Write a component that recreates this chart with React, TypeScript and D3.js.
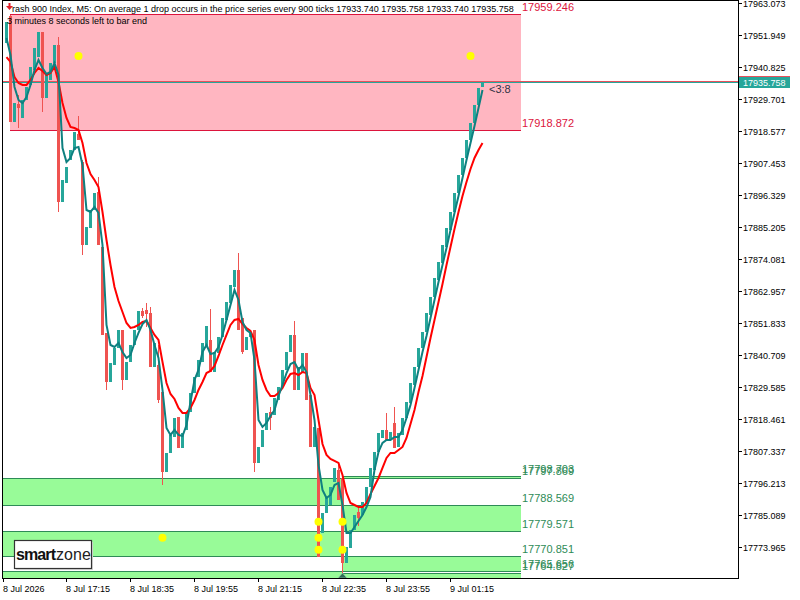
import * as d3 from "d3";

// M5 bars (bar 0 = 8 Jul 16:00)
const opens = [
  17949.17, 17958.56, 17921.71, 17927.97, 17923.10, 17929.36, 17934.57, 17939.79, 17944.30, 17952.99,
  17930.05, 17936.31, 17942.22, 17948.48, 17893.90, 17900.50, 17908.50, 17911.98, 17917.54, 17907.81,
  17878.95, 17884.86, 17891.12, 17897.38, 17878.25, 17848.37, 17831.33, 17837.24, 17843.15, 17849.41,
  17832.02, 17838.28, 17844.19, 17849.41, 17856.01, 17856.36, 17855.32, 17836.54, 17837.24, 17827.85,
  17800.05, 17806.65, 17812.21, 17819.17, 17808.39, 17814.65, 17820.90, 17827.50, 17833.06, 17838.28,
  17843.50, 17845.93, 17834.80, 17841.41, 17846.97, 17852.88, 17858.79, 17864.35, 17870.26, 17853.58,
  17842.45, 17846.97, 17849.41, 17803.18, 17808.74, 17814.65, 17820.90, 17819.86, 17825.07, 17829.59,
  17835.50, 17841.76, 17847.67, 17828.55, 17834.45, 17841.41, 17826.81, 17808.74, 17815.34, 17778.83,
  17785.78, 17788.57, 17796.56, 17800.74, 17797.96, 17768.40, 17773.62, 17779.88, 17786.13, 17785.09,
  17789.26, 17794.83, 17800.74, 17807.00, 17811.87, 17814.65, 17811.17, 17817.08, 17808.74, 17812.91,
  17818.82, 17824.03, 17830.28, 17836.54, 17843.15, 17848.71, 17854.62, 17860.88, 17866.79, 17872.69,
  17878.25, 17884.16, 17890.42, 17897.03, 17903.28, 17909.20, 17915.45, 17921.36, 17927.62, 17933.74,
];
const highs = [
  17956.47, 17958.90, 17928.31, 17931.10, 17929.36, 17933.88, 17940.83, 17947.43, 17952.99, 17952.99,
  17938.74, 17942.22, 17948.48, 17951.26, 17901.55, 17906.07, 17911.98, 17918.24, 17923.79, 17908.50,
  17885.21, 17891.12, 17897.03, 17902.59, 17878.25, 17848.37, 17837.93, 17843.15, 17849.41, 17849.41,
  17838.28, 17844.19, 17849.41, 17856.01, 17857.05, 17858.79, 17857.40, 17844.89, 17844.19, 17827.85,
  17806.65, 17812.91, 17818.82, 17819.17, 17813.60, 17820.90, 17827.50, 17833.06, 17838.97, 17844.89,
  17850.80, 17856.71, 17841.76, 17846.97, 17853.58, 17859.14, 17865.05, 17870.26, 17876.17, 17853.58,
  17846.97, 17848.71, 17849.41, 17808.74, 17814.65, 17820.55, 17822.64, 17825.77, 17829.59, 17835.50,
  17841.76, 17847.67, 17852.54, 17836.54, 17841.41, 17841.41, 17826.81, 17815.69, 17815.34, 17785.78,
  17791.35, 17794.83, 17801.44, 17802.48, 17797.96, 17773.97, 17779.88, 17785.09, 17788.22, 17789.61,
  17794.83, 17801.44, 17807.00, 17813.60, 17814.65, 17820.55, 17813.95, 17822.64, 17813.60, 17818.82,
  17824.38, 17830.98, 17836.54, 17843.15, 17848.71, 17855.32, 17860.88, 17867.48, 17873.04, 17878.95,
  17884.86, 17890.42, 17897.03, 17903.28, 17909.20, 17915.45, 17921.36, 17927.62, 17933.53, 17935.758,
];
const lows = [
  17949.17, 17921.71, 17921.71, 17919.62, 17923.10, 17929.36, 17934.57, 17939.79, 17944.30, 17925.19,
  17930.05, 17936.31, 17942.22, 17890.42, 17893.90, 17900.50, 17908.50, 17911.98, 17915.45, 17875.47,
  17878.95, 17884.86, 17891.12, 17878.95, 17847.67, 17828.55, 17831.33, 17837.24, 17843.15, 17828.55,
  17832.02, 17838.28, 17844.19, 17849.41, 17853.58, 17850.45, 17836.54, 17836.54, 17824.03, 17795.52,
  17800.05, 17806.65, 17812.21, 17808.39, 17808.39, 17814.65, 17820.90, 17827.50, 17833.06, 17838.28,
  17843.50, 17834.80, 17834.80, 17841.41, 17846.97, 17852.88, 17858.79, 17864.35, 17849.41, 17841.06,
  17842.45, 17846.97, 17800.05, 17803.18, 17808.74, 17814.65, 17814.65, 17819.86, 17825.07, 17829.59,
  17835.50, 17841.76, 17828.55, 17828.55, 17834.45, 17825.07, 17808.74, 17808.74, 17770.49, 17778.83,
  17785.78, 17788.57, 17796.56, 17790.31, 17764.93, 17768.40, 17773.62, 17779.88, 17781.26, 17785.09,
  17789.26, 17794.83, 17800.74, 17807.00, 17811.87, 17811.17, 17811.17, 17808.39, 17808.74, 17812.91,
  17818.82, 17824.03, 17830.28, 17836.54, 17843.15, 17848.71, 17854.62, 17860.88, 17866.79, 17872.69,
  17878.25, 17884.16, 17890.42, 17897.03, 17903.28, 17909.20, 17915.45, 17921.36, 17927.62, 17933.74,
];
const closes = [
  17956.47, 17921.71, 17928.31, 17926.58, 17929.36, 17933.88, 17940.83, 17947.43, 17952.99, 17930.05,
  17938.74, 17942.22, 17948.48, 17893.90, 17901.55, 17906.07, 17911.98, 17918.24, 17915.45, 17878.95,
  17885.21, 17891.12, 17897.03, 17878.95, 17847.67, 17831.33, 17837.93, 17843.15, 17849.41, 17832.02,
  17838.28, 17844.19, 17849.41, 17856.01, 17854.27, 17854.97, 17836.54, 17844.89, 17825.07, 17800.05,
  17806.65, 17812.91, 17818.82, 17808.39, 17813.60, 17820.90, 17827.50, 17833.06, 17838.97, 17844.89,
  17850.80, 17834.80, 17841.76, 17846.97, 17853.58, 17859.14, 17865.05, 17870.26, 17849.41, 17841.76,
  17846.97, 17848.71, 17803.18, 17808.74, 17814.65, 17820.55, 17818.82, 17825.77, 17829.59, 17835.50,
  17841.76, 17847.67, 17828.55, 17836.54, 17841.41, 17825.07, 17808.74, 17815.69, 17770.49, 17785.78,
  17791.35, 17794.83, 17801.44, 17790.31, 17768.40, 17773.97, 17779.88, 17785.09, 17784.05, 17789.61,
  17794.83, 17801.44, 17807.00, 17813.60, 17814.65, 17811.17, 17813.95, 17808.39, 17813.60, 17818.82,
  17824.38, 17830.98, 17836.54, 17843.15, 17848.71, 17855.32, 17860.88, 17867.48, 17873.04, 17878.95,
  17884.86, 17890.42, 17897.03, 17903.28, 17909.20, 17915.45, 17921.36, 17927.62, 17933.53, 17935.758,
];

// fast (teal) and slow (red) moving averages, read per bar
const maFast = [
  17950.91, 17945.00, 17933.88, 17929.36, 17928.31, 17930.40, 17934.57, 17939.79, 17943.26, 17940.48,
  17938.40, 17939.09, 17942.22, 17938.05, 17912.67, 17907.81, 17909.20, 17912.67, 17913.02, 17906.76,
  17891.12, 17890.42, 17892.16, 17890.08, 17878.95, 17851.14, 17844.19, 17843.50, 17844.89, 17841.76,
  17839.67, 17840.71, 17844.89, 17848.37, 17851.49, 17852.88, 17849.41, 17844.19, 17839.67, 17828.55,
  17815.34, 17812.91, 17814.65, 17812.91, 17812.56, 17816.38, 17824.38, 17832.02, 17835.50, 17841.76,
  17844.19, 17841.06, 17841.41, 17843.50, 17847.67, 17852.88, 17858.10, 17863.31, 17859.83, 17852.19,
  17849.41, 17848.37, 17838.97, 17818.12, 17815.69, 17817.08, 17819.51, 17821.60, 17826.46, 17830.28,
  17834.45, 17837.58, 17838.28, 17835.50, 17837.24, 17834.80, 17826.81, 17818.12, 17802.48, 17793.78,
  17791.00, 17792.05, 17795.52, 17796.22, 17788.57, 17778.83, 17778.83, 17780.92, 17783.00, 17785.09,
  17787.87, 17791.35, 17800.74, 17807.00, 17810.13, 17811.17, 17811.17, 17812.21, 17812.21, 17814.65,
  17818.82, 17823.33, 17829.24, 17835.50, 17841.76, 17847.32, 17853.58, 17859.83, 17866.09, 17871.99,
  17877.91, 17884.16, 17890.08, 17895.99, 17902.24, 17908.50, 17914.41, 17920.32, 17926.58, 17932.83,
];
const maSlow = [
  17944.30, 17942.57, 17937.35, 17935.27, 17934.57, 17934.57, 17936.31, 17938.74, 17940.48, 17939.44,
  17938.05, 17938.74, 17940.83, 17935.61, 17928.31, 17923.10, 17919.97, 17919.62, 17918.93, 17914.41,
  17907.46, 17903.63, 17901.55, 17899.11, 17890.42, 17880.69, 17871.99, 17864.35, 17859.49, 17855.66,
  17851.84, 17850.10, 17850.45, 17851.14, 17852.19, 17852.54, 17850.10, 17847.67, 17845.93, 17838.28,
  17830.98, 17827.16, 17825.42, 17822.29, 17820.55, 17820.55, 17822.29, 17825.07, 17828.55, 17831.33,
  17834.45, 17835.15, 17836.89, 17840.37, 17844.19, 17847.67, 17851.14, 17852.88, 17853.23, 17851.49,
  17850.10, 17849.06, 17845.93, 17837.24, 17832.02, 17828.55, 17826.46, 17826.46, 17827.50, 17829.24,
  17832.02, 17834.11, 17834.45, 17833.76, 17834.80, 17834.45, 17829.24, 17826.81, 17818.12, 17809.78,
  17805.96, 17804.57, 17803.87, 17803.18, 17799.00, 17792.74, 17789.26, 17788.57, 17787.87, 17787.87,
  17789.26, 17792.39, 17795.17, 17797.96, 17801.44, 17804.91, 17806.65, 17806.65, 17807.69, 17808.74,
  17811.87, 17816.73, 17821.60, 17827.85, 17833.41, 17840.02, 17846.63, 17852.88, 17859.14, 17865.40,
  17871.99, 17878.25, 17884.51, 17890.42, 17895.99, 17900.85, 17905.37, 17909.20, 17911.98, 17914.41,
];

const priceTicks = [
  17963.073, 17951.949, 17940.825, 17929.701, 17918.577, 17907.453, 17896.329, 17885.205, 17874.081,
  17862.957, 17851.833, 17840.709, 17829.585, 17818.461, 17807.337, 17796.213, 17785.089, 17773.965,
];
const timeLabels = ["8 Jul 2026", "8 Jul 17:15", "8 Jul 18:35", "8 Jul 19:55", "8 Jul 21:15", "8 Jul 22:35", "8 Jul 23:55", "9 Jul 01:15"];
const timeTickBars = [0, 15, 31, 47, 63, 79, 95, 111];

// zones: [upper price, lower price]
const supplyZone = [17959.246, 17918.872];
const demandOld = [[17797.869, 17788.569], [17779.571, 17770.851], [17765.656, 17740]];
const demandNew = [[17798.703, 17797.869], [17788.569, 17779.571], [17770.851, 17765.656], [17764.827, 17740]];
const supplyLabels = [17959.246, 17918.872];
const demandLabels = [17798.703, 17797.869, 17788.569, 17779.571, 17770.851, 17765.656, 17764.827];
const zoneStartBar = 1;
const zoneSplitBar = 84;
const zoneEndBar = 128.75;

// yellow signal dots: [bar, price]
const signalDots = [
  [18, 17944.65], [116, 17944.65], [39, 17777.2],
  [78, 17782.76], [78, 17777.2], [78, 17773.0], [84, 17782.76], [84, 17773.0],
];
const lowestBar = 84;
const bid = 17935.758;
const ask = 17936.1;

const FONT = "'Liberation Sans', Arial, sans-serif";

export default function App() {
  const left = 3, right = 738, bottom = 578;
  const x = d3.scaleLinear().domain([0, 183]).range([6, 738]);
  const y = d3.scaleLinear().domain([17763.188, 17964.116]).range([578, 0]);
  const ry = (v: number) => Math.round(y(v));

  const line = d3.line<number>().x((_, i) => x(i) + 0.5).y((d) => y(d));

  const zoneRect = (top: number, bot: number, from: number, to: number, fill: string, stroke: string, k: string) => {
    const x0 = x(from), x1 = x(to);
    const y0 = ry(top), y1 = ry(bot);
    return (
      <g key={k}>
        <rect x={x0} y={y0} width={x1 - x0} height={y1 - y0} fill={fill} />
        <line x1={x0} x2={x1} y1={y0 + 0.5} y2={y0 + 0.5} stroke={stroke} />
        <line x1={x0} x2={x1} y1={y1 + 0.5} y2={y1 + 0.5} stroke={stroke} />
      </g>
    );
  };

  const yBid = ry(bid);

  return (
    <svg width={800} height={600} style={{ position: "absolute", left: 0, top: 0, background: "#fff" }} fontFamily={FONT}>
      <defs>
        <clipPath id="plot">
          <rect x={left} y={0} width={right - left} height={bottom} />
        </clipPath>
      </defs>
      <rect width={800} height={600} fill="#fff" />

      <g clipPath="url(#plot)">
        {zoneRect(supplyZone[0], supplyZone[1], zoneStartBar, zoneEndBar, "#ffb6c1", "#dc143c", "s")}
        {demandOld.map((z, i) => zoneRect(z[0], z[1], -2, zoneSplitBar, "#98fb98", "#2e8b57", "o" + i))}
        {demandNew.map((z, i) => zoneRect(z[0], z[1], zoneSplitBar, zoneEndBar, "#98fb98", "#2e8b57", "n" + i))}

        {/* ask / bid lines */}
        <line x1={left} x2={right} y1={ry(ask) + 0.5} y2={ry(ask) + 0.5} stroke="#e8505b" />
        <line x1={left} x2={right} y1={yBid + 0.5} y2={yBid + 0.5} stroke="#26a69a" />

        {closes.map((c, i) => {
          const o = opens[i];
          const col = c >= o ? "#26a69a" : "#ef5350";
          const cx = Math.round(x(i));
          const yt = ry(Math.max(o, c)), yb = ry(Math.min(o, c));
          const yh = ry(highs[i]), yl = ry(lows[i]);
          return (
            <g key={i}>
              <rect x={cx} y={yh} width={1} height={Math.max(1, yl - yh)} fill={col} />
              <rect x={cx - 1} y={yt} width={3} height={Math.max(1, yb - yt)} fill={col} />
            </g>
          );
        })}

        <path d={line(maSlow) || ""} fill="none" stroke="#ff0000" strokeWidth={2} />
        <path d={line(maFast) || ""} fill="none" stroke="#0e8080" strokeWidth={2} />

        {signalDots.map((d, i) => (
          <circle key={i} cx={x(d[0]) + 0.5} cy={y(d[1])} r={4} fill="#ffff00" />
        ))}

        <path
          d={`M${x(lowestBar) + 0.5},${bottom - 5} L${x(lowestBar) + 5},${bottom} L${x(lowestBar) - 4},${bottom} Z`}
          fill="#2e6b57"
          stroke="#9fd8b0"
          strokeWidth={0.6}
        />
      </g>

      {/* zone price labels */}
      {supplyLabels.map((v) => (
        <text key={v} x={522} y={ry(v) - 3} fontSize={11} fill="#dc143c">{v.toFixed(3)}</text>
      ))}
      {demandLabels.map((v) => (
        <text key={v} x={522} y={ry(v) - 3} fontSize={11} fill="#2e8b57">{v.toFixed(3)}</text>
      ))}

      <text x={489} y={yBid + 11} fontSize={11} fill="#333344">{"<3:8"}</text>

      {/* header */}
      <path d="M8.5,3 L10.5,3 L10.5,6 L13,6 L9.5,10 L6,6 L8.5,6 Z" fill="#e0202a" />
      <text x={12} y={11.5} fontSize={9} fill="#000">
        rash 900 Index, M5:  On average 1 drop occurs in the price series every 900 ticks  17933.740 17935.758 17933.740 17935.758
      </text>
      <text x={7} y={23.5} fontSize={9} fill="#000">3 minutes 8 seconds left to bar end</text>

      {/* smartzone logo */}
      <rect x={16} y={542} width={77} height={28} fill="#d8d8d8" />
      <rect x={14.5} y={540.5} width={77} height={28} fill="#fff" stroke="#333" strokeWidth={1.2} />
      <text x={16} y={559.5} fontSize={16} fill="#111">
        <tspan fontWeight="bold" letterSpacing={-0.9}>smart</tspan>
        <tspan dx={1} fontWeight="normal" fill="#222">zone</tspan>
      </text>

      {/* frame */}
      <rect x={2.5} y={0.5} width={right - 2.5 + 0.5} height={bottom} fill="none" stroke="#000" />

      {/* price axis */}
      {priceTicks.map((v) => {
        const yy = ry(v) + 0.5;
        return (
          <g key={v}>
            <line x1={right} x2={right + 4} y1={yy} y2={yy} stroke="#000" />
            <text x={743} y={yy + 3.5} fontSize={9} fill="#000">{v.toFixed(3)}</text>
          </g>
        );
      })}
      <rect x={739} y={yBid - 6} width={51} height={12} fill="#26a69a" />
      <line x1={739} x2={790} y1={yBid - 5.5} y2={yBid - 5.5} stroke="#e8505b" />
      <text x={743} y={yBid + 4} fontSize={9} fill="#fff">{bid.toFixed(3)}</text>

      {/* time axis */}
      {timeTickBars.map((b, i) => {
        const tx = i === 0 ? left : Math.round(x(b));
        return (
          <g key={b}>
            <line x1={tx + 0.5} x2={tx + 0.5} y1={bottom} y2={bottom + 4} stroke="#000" />
            <text x={tx} y={592} fontSize={9} fill="#000">{timeLabels[i]}</text>
          </g>
        );
      })}
    </svg>
  );
}
